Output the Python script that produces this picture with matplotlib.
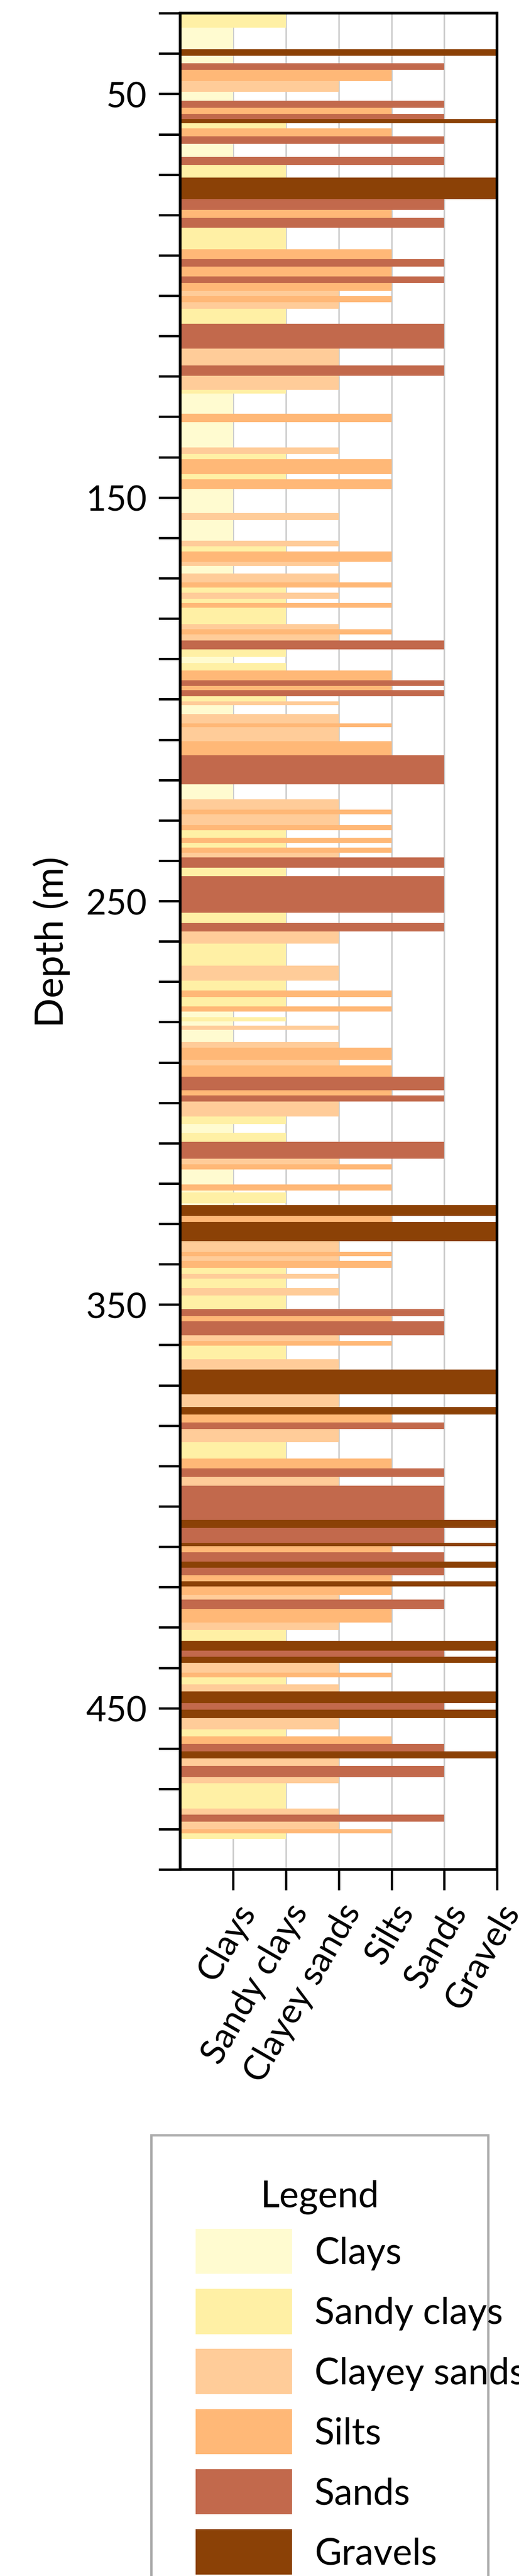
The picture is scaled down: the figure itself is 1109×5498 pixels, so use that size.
import matplotlib
matplotlib.use("Agg")
import matplotlib.pyplot as plt
from matplotlib.patches import Patch

plt.rcParams['font.family'] = ['Lato', 'DejaVu Sans']

classes = ["Clays", "Sandy clays", "Clayey sands", "Silts", "Sands", "Gravels"]
colors = ["#FFFBD0", "#FFF0A5", "#FFCC99", "#FFB877", "#C2694C", "#8B4106"]

tops = [30, 33.6, 38.9, 40.6, 42.4, 44.0, 46.8, 49.5, 51.7, 53.4, 54.9, 56.2, 57.3, 58.6, 60.5,
        62.4, 65.6, 67.6, 70.7, 76.1, 78.7, 80.7, 83.1, 88.5, 90.9, 92.8, 95.2, 96.9, 98.8, 100.1,
        101.6, 103.3, 107.0, 113.1, 117.3, 119.9, 123.3, 124.3, 129.3, 131.3, 137.6, 139.2, 140.5,
        144.2, 145.5, 148.0, 153.9, 155.6, 160.7, 162.1, 163.4, 165.9, 167.0, 168.8, 171.0, 172.3,
        173.6, 175.1, 176.2, 177.3, 181.4, 182.7, 183.9, 185.4, 187.6, 189.5, 191.0, 192.9, 195.3,
        196.7, 197.8, 199.3, 200.5, 201.5, 203.7, 206.0, 206.9, 210.4, 213.9, 221.1, 224.8, 227.3,
        228.5, 231.2, 232.5, 234.3, 235.6, 236.8, 238.0, 239.2, 241.8, 243.9, 252.9, 255.4, 257.5,
        260.6, 266.0, 269.7, 272.2, 273.8, 276.1, 277.4, 278.8, 279.8, 280.9, 281.9, 285.0, 286.3,
        289.4, 290.7, 293.5, 296.9, 298.2, 299.7, 303.4, 305.3, 307.5, 309.7, 313.8, 315.3, 316.5,
        320.2, 321.7, 322.2, 324.9, 325.4, 328.0, 329.5, 334.3, 337.0, 338.0, 339.2, 340.9, 342.4,
        343.6, 345.9, 347.7, 351.1, 352.9, 354.1, 357.6, 359.0, 360.2, 363.5, 366.1, 372.2, 375.4,
        377.3, 379.2, 380.8, 384.1, 388.2, 390.6, 392.7, 394.9, 403.4, 405.3, 409.0, 409.9, 411.4,
        413.7, 415.2, 417.1, 418.6, 419.9, 421.9, 423.1, 425.4, 428.8, 430.7, 433.3, 435.8, 437.3,
        438.8, 441.2, 442.4, 444.1, 445.9, 448.8, 450.4, 452.5, 455.3, 457.0, 458.9, 460.7, 462.5,
        464.3, 467.1, 468.6, 474.9, 476.4, 478.1, 480.0, 481.0]
bottom_depth = 482.4
litho = [2, 1, 6, 1, 5, 4, 3, 1, 5, 4, 5, 6, 2, 4, 5,
         1, 5, 2, 6, 5, 4, 5, 2, 4, 5, 4, 5, 4, 3, 4,
         3, 2, 5, 3, 5, 3, 2, 1, 4, 1, 3, 2, 4,
         2, 4, 1, 3, 1, 3, 2, 4, 3, 1, 3, 4, 2,
         3, 2, 4, 2, 3, 4, 3, 5, 2, 1, 2, 4, 5,
         4, 5, 2, 3, 1, 3, 4, 3, 4, 5, 1, 3, 4,
         3, 4, 2, 4, 2, 4, 3, 5, 2, 5, 2, 5, 3,
         2, 3, 2, 4, 2, 4, 1, 2, 1, 3, 1, 3, 4,
         3, 4, 5, 4, 5, 3, 2, 1, 2, 5, 3, 4, 1,
         4, 1, 2, 1, 6, 4, 6, 3, 4, 3, 4, 2, 3,
         2, 3, 2, 5, 4, 5, 3, 4, 2, 3, 6, 3, 6,
         4, 5, 3, 2, 4, 5, 3, 5, 6, 5, 6, 4, 5,
         6, 5, 4, 6, 4, 3, 5, 4, 3, 2, 6, 5, 6,
         3, 4, 2, 3, 6, 5, 6, 3, 2, 4, 5, 6, 3,
         5, 3, 2, 3, 5, 3, 4, 2]

bases = tops[1:] + [bottom_depth]
thick = [b - t for t, b in zip(tops, bases)]

fig = plt.figure(figsize=(1109 / 300, 5499 / 300), dpi=300)
ax = fig.add_axes([0.347, 0.2742, 0.611, 0.7205])

for x in range(1, 7):
    ax.axvline(x, color="#cccccc", lw=0.8, zorder=0)

ax.barh(tops, litho, height=thick, left=0, align='edge',
        color=[colors[c - 1] for c in litho], linewidth=0, zorder=2)

ax.set_xlim(0, 6)
ax.set_ylim(490, 30)
ax.set_yticks(range(30, 491, 10))
ax.set_yticklabels([str(v) if v % 100 == 50 else "" for v in range(30, 491, 10)])
ax.set_xticks(range(1, 7))
ax.set_xticklabels(classes, rotation=60, ha='right', rotation_mode='anchor')
ax.tick_params(axis='y', length=11, width=1.2, labelsize=18, pad=6)
ax.tick_params(axis='x', length=10.5, width=1.2, labelsize=18, pad=4)
for s in ax.spines.values():
    s.set_linewidth(1.4)
ax.set_ylabel("Depth (m)", fontsize=20, labelpad=8)

handles = [Patch(facecolor=c, edgecolor='none', label=l) for c, l in zip(colors, classes)]
leg = fig.legend(handles=handles, title="Legend", loc='upper left',
                 bbox_to_anchor=(0.256, 0.0036, 0.72, 0.1748), mode='expand',
                 fontsize=19, title_fontsize=19, handlelength=2.6, handleheight=1.5,
                 labelspacing=0.4, borderpad=1.2, handletextpad=0.6,
                 fancybox=False, edgecolor='#aaaaaa', framealpha=1)
leg.get_frame().set_linewidth(1.2)

fig.savefig("out.png", dpi=300)
